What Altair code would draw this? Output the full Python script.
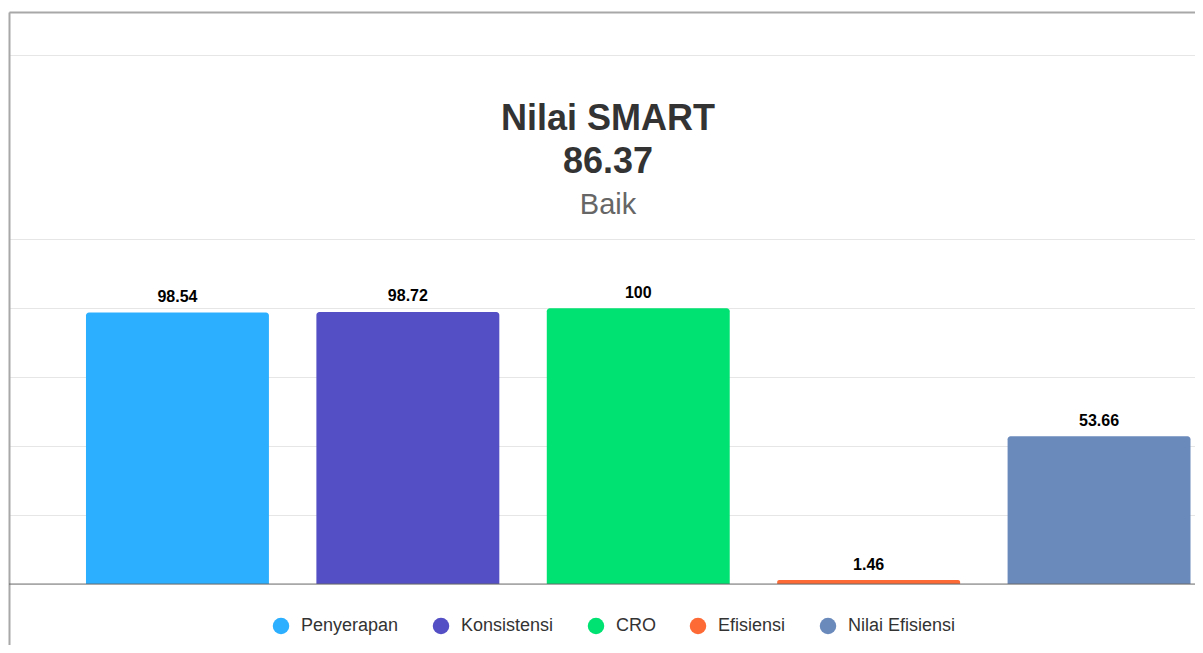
import altair as alt
import pandas as pd

categories = ["Penyerapan", "Konsistensi", "CRO", "Efisiensi", "Nilai Efisiensi"]
values = [98.54, 98.72, 100, 1.46, 53.66]
labels = ["98.54", "98.72", "100", "1.46", "53.66"]
colors = ["#2caffe", "#544fc5", "#00e272", "#fe6a35", "#6b8abc"]
grid_values = [25, 50, 75, 100, 125, 192]

df = pd.DataFrame({"kategori": categories, "nilai": values, "label": labels})

FONT = "Liberation Sans"

x_scale = alt.Scale(domain=categories, paddingInner=0.206, paddingOuter=0.1768, align=0.945)
y_scale = alt.Scale(domain=[-22.1, 207.5], nice=False, zero=False)

x_enc = alt.X(
    "kategori:N", sort=categories, scale=x_scale, title=None,
    axis=alt.Axis(orient="top", labels=False, ticks=False, grid=False,
                  domain=True, domainColor="#a8a8a8", domainWidth=2),
)
y_enc = alt.Y(
    "nilai:Q", scale=y_scale, title=None,
    axis=alt.Axis(values=grid_values, labels=False, ticks=False, grid=True,
                  gridColor="#e6e6e6", gridWidth=1,
                  domain=True, domainColor="#a8a8a8", domainWidth=2),
)

base = alt.Chart(df)

bars = base.mark_bar(cornerRadiusTopLeft=3, cornerRadiusTopRight=3).encode(
    x=x_enc,
    y=y_enc,
    y2=alt.datum(0),
    color=alt.Color(
        "kategori:N", sort=categories,
        scale=alt.Scale(domain=categories, range=colors),
        legend=alt.Legend(
            title=None, orient="none", direction="horizontal", columns=5,
            legendX=263, legendY=605, padding=0,
            symbolType="circle", symbolSize=272, symbolStrokeWidth=0,
            symbolOpacity=1,
            labelFont=FONT, labelFontSize=18, labelColor="#333333",
            labelOffset=11, columnPadding=33,
        ),
    ),
)

text = base.mark_text(
    baseline="alphabetic", dy=-10.5, font=FONT, fontSize=16,
    fontWeight="bold", color="#000000",
).encode(
    x=alt.X("kategori:N", sort=categories, scale=x_scale),
    y=alt.Y("nilai:Q", scale=y_scale),
    text="label:N",
)

baseline = alt.Chart(pd.DataFrame({"zero": [0]})).mark_rule(
    color="#666666", strokeWidth=1
).encode(y=alt.Y("zero:Q", scale=y_scale))

chart = alt.layer(bars, baseline, text).properties(
    width=1186,
    height=633,
    title=alt.TitleParams(
        text=["Nilai SMART", "86.37"],
        subtitle="Baik",
        anchor="middle",
        orient="top",
        offset=-209,
        dx=6,
        font=FONT,
        fontSize=36,
        fontWeight="bold",
        color="#333333",
        lineHeight=43,
        subtitleFont=FONT,
        subtitleFontSize=29,
        subtitleColor="#666666",
        subtitlePadding=10,
    ),
    autosize=alt.AutoSizeParams(type="none"),
    padding={"left": 1, "top": 4, "right": 0, "bottom": 0},
).configure_view(stroke=None).configure(background="white")

chart.save("out.html", embed_options={"renderer": "svg", "actions": False})
